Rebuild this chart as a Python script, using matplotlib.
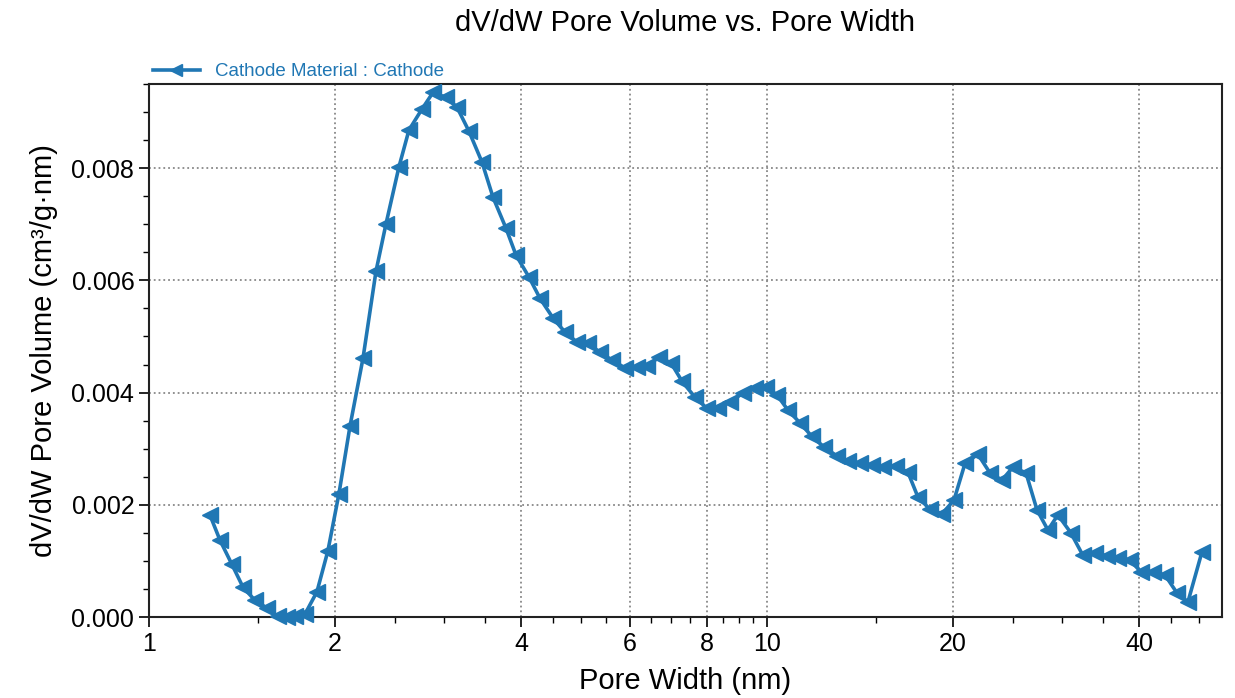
import matplotlib
matplotlib.use('Agg')
import matplotlib.pyplot as plt
from matplotlib.ticker import FixedLocator, FixedFormatter, NullFormatter, MultipleLocator, FormatStrFormatter

plt.rcParams['font.family'] = ['Liberation Sans', 'DejaVu Sans']

# pore width (nm) and dV/dW pore volume (cm3/g.nm)
width = [1.255, 1.303, 1.362, 1.42, 1.484, 1.552, 1.617, 1.672, 1.723, 1.788, 1.87, 1.948,
         2.03, 2.115, 2.22, 2.33, 2.418, 2.538, 2.635, 2.765, 2.882,
         3.024, 3.15, 3.294, 3.458, 3.604, 3.782, 3.926,
         4.12, 4.293, 4.506, 4.71, 4.926,
         5.133, 5.367, 5.612, 5.892,
         6.16, 6.395, 6.688, 6.993,
         7.29, 7.644, 7.996,
         8.33, 8.71,
         9.146, 9.563, 9.96,
         10.38, 10.81, 11.31, 11.82, 12.37, 12.98, 13.52, 14.14, 14.79, 15.41, 16.17, 16.91, 17.55, 18.35, 19.2,
         20.07, 20.92, 21.95, 22.95, 24.01, 25.0, 26.25, 27.35, 28.49, 29.57,
         31.03, 32.45, 33.94, 35.5, 36.98, 38.67,
         40.29, 42.13, 44.06, 46.07, 48.0, 50.57]

dvdw = [0.00182, 0.00137, 0.00094, 0.00053, 0.0003, 0.00016, 0.00001, 0.0, 0.00002, 0.00005, 0.00045, 0.00118,
        0.0022, 0.0034, 0.00461, 0.00616, 0.0070, 0.00802, 0.00868, 0.00905, 0.00935,
        0.00926, 0.00909, 0.00866, 0.00811, 0.00748, 0.00693, 0.00645,
        0.00606, 0.00568, 0.00533, 0.00508, 0.0049,
        0.00488, 0.00472, 0.00458, 0.00444,
        0.00445, 0.00447, 0.00463, 0.00453,
        0.0042, 0.00392, 0.00372,
        0.00372, 0.00383,
        0.00399, 0.00408, 0.0041,
        0.00396, 0.00369, 0.00346, 0.00322, 0.00303, 0.00287, 0.00278, 0.00274, 0.00271, 0.00267, 0.00269, 0.00258, 0.00214, 0.00192, 0.00184,
        0.00208, 0.00274, 0.0029, 0.00257, 0.00244, 0.00267, 0.00257, 0.00191, 0.00155, 0.00182,
        0.0015, 0.0011, 0.00114, 0.00109, 0.00105, 0.00102,
        0.0008, 0.0008, 0.00075, 0.00043, 0.00027, 0.00116]

x_major = [1, 2, 4, 6, 8, 10, 20, 40]
x_labels = ['1', '2', '4', '6', '8', '10', '20', '40']
x_minor = [1.5, 2.5, 3, 3.5, 4.5, 5, 5.5, 6.5, 7, 7.5, 8.5, 9, 9.5, 15, 25, 30, 35, 45, 50]

color = '#2077b4'

fig = plt.figure(figsize=(12.35, 6.98), dpi=100)
ax = fig.add_axes([0.1206, 0.116, 0.8689, 0.7637])

ax.plot(width, dvdw, color=color, linewidth=2.6, marker='<', markersize=11,
        label='Cathode Material : Cathode', clip_on=False, zorder=3)

ax.set_xscale('log')
ax.set_xlim(1, 54.5)
ax.set_ylim(0, 0.0095)

ax.xaxis.set_major_locator(FixedLocator(x_major))
ax.xaxis.set_major_formatter(FixedFormatter(x_labels))
ax.xaxis.set_minor_locator(FixedLocator(x_minor))
ax.xaxis.set_minor_formatter(NullFormatter())
ax.yaxis.set_major_locator(MultipleLocator(0.002))
ax.yaxis.set_minor_locator(MultipleLocator(0.0005))
ax.yaxis.set_major_formatter(FormatStrFormatter('%.3f'))

ax.tick_params(which='major', direction='out', length=7, width=1.2, labelsize=18)
ax.tick_params(which='minor', direction='out', length=4, width=1)
ax.grid(True, which='major', color='#888888', linestyle=':', linewidth=1.3)
for s in ax.spines.values():
    s.set_linewidth(1.5)
    s.set_color('#222222')

ax.set_title('dV/dW Pore Volume vs. Pore Width', fontsize=21, pad=38)
ax.set_xlabel('Pore Width (nm)', fontsize=21, labelpad=8)
ax.set_ylabel('dV/dW Pore Volume (cm³/g·nm)', fontsize=21, labelpad=10)

ax.legend(loc='lower left', bbox_to_anchor=(0.0, 1.0), frameon=False, borderaxespad=0.1,
          fontsize=13.5, labelcolor='linecolor', handlelength=2.5, markerscale=0.85,
          borderpad=0.1, handletextpad=0.8)

fig.savefig('out.png', dpi=100)
